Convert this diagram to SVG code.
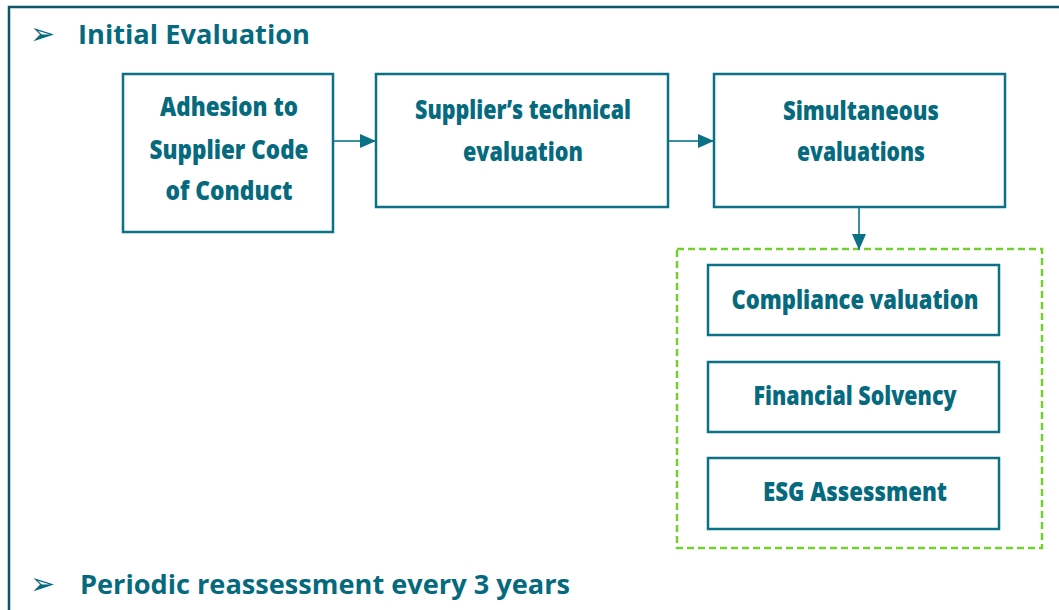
<svg xmlns="http://www.w3.org/2000/svg" width="1059" height="610" viewBox="0 0 1059 610">
<style>
.box{fill:#fff;stroke:#0b7186;stroke-width:2.5}
.t{font-family:"Open Sans","Noto Sans",sans-serif;font-weight:800;font-size:26.5px;fill:#056a7e;text-anchor:middle}
.h{font-family:"Open Sans","Noto Sans",sans-serif;font-weight:700;font-size:27.5px;fill:#056a7e}
.b{font-family:"DejaVu Sans",sans-serif;font-size:30px;fill:#056a7e}
.c{stroke:#3a8fa0;stroke-width:2;fill:none}
</style>
<defs>
<marker id="ah2" viewBox="0 0 16 14" refX="16" refY="7" markerWidth="16" markerHeight="14" orient="auto" markerUnits="userSpaceOnUse">
<path d="M0,0 L16,7 L0,14 Z" fill="#0b7186"/>
</marker>
</defs>
<rect x="0" y="0" width="1059" height="610" fill="#fff"/>
<rect id="frame" x="9" y="7" width="1070" height="620" fill="none" stroke="#0b5566" stroke-width="2.5"/>
<g id="heading1">
<text class="b" x="30" y="44">➢</text>
<text class="h" x="78" y="44" textLength="232" lengthAdjust="spacingAndGlyphs">Initial Evaluation</text>
</g>
<g id="heading2">
<text class="b" x="30" y="594">➢</text>
<text class="h" x="80" y="594" textLength="490" lengthAdjust="spacingAndGlyphs">Periodic reassessment every 3 years</text>
</g>
<g id="group">
<rect x="677" y="249" width="365" height="299" fill="none" stroke="#72d12f" stroke-width="2.5" stroke-dasharray="7,4"/>
</g>
<g id="connectors">
<line class="c" x1="334" y1="141" x2="376" y2="141" marker-end="url(#ah2)"/>
<line class="c" x1="669" y1="141" x2="714" y2="141" marker-end="url(#ah2)"/>
<line class="c" x1="859" y1="208" x2="859" y2="250" marker-end="url(#ah2)"/>
</g>
<g id="n1">
<rect class="box" x="123" y="74" width="210" height="158"/>
<text class="t" x="229" y="116" textLength="138" lengthAdjust="spacingAndGlyphs">Adhesion to</text>
<text class="t" x="229" y="159" textLength="159" lengthAdjust="spacingAndGlyphs">Supplier Code</text>
<text class="t" x="229" y="200" textLength="127" lengthAdjust="spacingAndGlyphs">of Conduct</text>
</g>
<g id="n2">
<rect class="box" x="376" y="74" width="292" height="133"/>
<text class="t" x="523" y="119" textLength="216" lengthAdjust="spacingAndGlyphs">Supplier’s technical</text>
<text class="t" x="523" y="161" textLength="120" lengthAdjust="spacingAndGlyphs">evaluation</text>
</g>
<g id="n3">
<rect class="box" x="714" y="74" width="291" height="133"/>
<text class="t" x="861" y="120" textLength="156" lengthAdjust="spacingAndGlyphs">Simultaneous</text>
<text class="t" x="861" y="161" textLength="128" lengthAdjust="spacingAndGlyphs">evaluations</text>
</g>
<g id="n4">
<rect class="box" x="708" y="265" width="291" height="70"/>
<text class="t" x="855" y="309" textLength="247" lengthAdjust="spacingAndGlyphs">Compliance valuation</text>
</g>
<g id="n5">
<rect class="box" x="708" y="362" width="291" height="70"/>
<text class="t" x="855" y="405" textLength="203" lengthAdjust="spacingAndGlyphs">Financial Solvency</text>
</g>
<g id="n6">
<rect class="box" x="708" y="458" width="291" height="71"/>
<text class="t" x="855" y="501" textLength="184" lengthAdjust="spacingAndGlyphs">ESG Assessment</text>
</g>
</svg>
